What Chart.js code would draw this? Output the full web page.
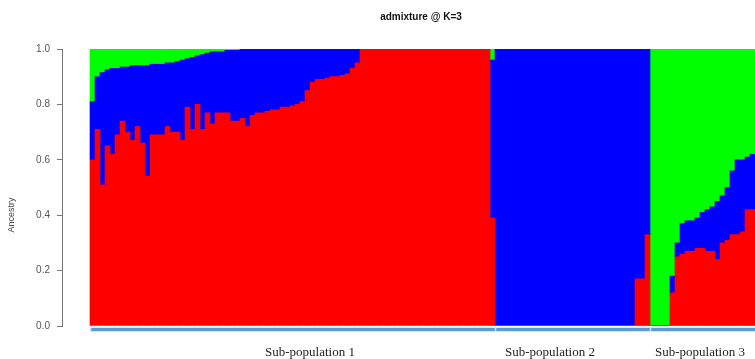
<!DOCTYPE html>
<html>
<head>
<meta charset="utf-8">
<script src="https://cdn.jsdelivr.net/npm/chart.js@4.4.1/dist/chart.umd.min.js"></script>
<style>
  body { margin: 0; background: #fff; overflow: hidden; }
  #box { width: 755px; height: 359px; }
</style>
</head>
<body>
<div id="box"><canvas id="admixChart"></canvas></div>
<script>
// Grupos (sub-populações) e número de indivíduos visíveis em cada um
const groupNames = ['Sub-population 1', 'Sub-population 2', 'Sub-population 3'];
const groupSizes = [81, 31, 21];
// posição dos rótulos dos grupos, em unidades de indivíduo
const groupLabelAt = [43.5, 91.5, 121.5];

// Proporção de ancestralidade por indivíduo, cluster 1 (vermelho)
const red = [
    0.60, 0.71, 0.51, 0.65, 0.62, 0.69, 0.74, 0.70, 0.67, 0.72,
    0.66, 0.54, 0.69, 0.69, 0.69, 0.72, 0.70, 0.70, 0.67, 0.79,
    0.71, 0.80, 0.71, 0.77, 0.73, 0.77, 0.77, 0.77, 0.74, 0.74,
    0.75, 0.72, 0.76, 0.77, 0.77, 0.775, 0.78, 0.78, 0.79, 0.79,
    0.795, 0.80, 0.81, 0.85, 0.88, 0.89, 0.89, 0.895, 0.90, 0.90,
    0.905, 0.91, 0.93, 0.95, 1, 1, 1, 1, 1, 1,
    1, 1, 1, 1, 1, 1, 1, 1, 1, 1,
    1, 1, 1, 1, 1, 1, 1, 1, 1, 1,
    0.39,
    0, 0, 0, 0, 0, 0, 0, 0, 0, 0,
    0, 0, 0, 0, 0, 0, 0, 0, 0, 0,
    0, 0, 0, 0, 0, 0, 0, 0, 0.17, 0.17, 0.33,
    0, 0, 0, 0, 0.12, 0.25, 0.26, 0.27, 0.27, 0.28,
    0.28, 0.27, 0.27, 0.24, 0.30, 0.31, 0.33, 0.33, 0.34, 0.42, 0.42
];

// cluster 2 (azul)
const blue = [
    0.21, 0.19, 0.405, 0.275, 0.31, 0.24, 0.195, 0.235, 0.27, 0.22,
    0.28, 0.40, 0.255, 0.255, 0.255, 0.23, 0.25, 0.255, 0.29, 0.175,
    0.26, 0.175, 0.27, 0.215, 0.26, 0.22, 0.22, 0.225, 0.255, 0.255,
    0.25, 0.28, 0.24, 0.23, 0.23, 0.225, 0.22, 0.22, 0.21, 0.21,
    0.205, 0.20, 0.19, 0.15, 0.12, 0.11, 0.11, 0.105, 0.10, 0.10,
    0.095, 0.09, 0.07, 0.05, 0, 0, 0, 0, 0, 0,
    0, 0, 0, 0, 0, 0, 0, 0, 0, 0,
    0, 0, 0, 0, 0, 0, 0, 0, 0, 0,
    0.57,
    1, 1, 1, 1, 1, 1, 1, 1, 1, 1,
    1, 1, 1, 1, 1, 1, 1, 1, 1, 1,
    1, 1, 1, 1, 1, 1, 1, 1, 0.83, 0.83, 0.67,
    0, 0, 0, 0, 0.06, 0.05, 0.11, 0.11, 0.11, 0.11,
    0.13, 0.15, 0.16, 0.21, 0.17, 0.19, 0.23, 0.27, 0.26, 0.19, 0.20
];

// cluster 3 (verde)
const green = [
    0.19, 0.10, 0.085, 0.075, 0.07, 0.07, 0.065, 0.065, 0.06, 0.06,
    0.06, 0.06, 0.055, 0.055, 0.055, 0.05, 0.05, 0.045, 0.04, 0.035,
    0.03, 0.025, 0.02, 0.015, 0.01, 0.01, 0.01, 0.005, 0.005, 0.005,
    0, 0, 0, 0, 0, 0, 0, 0, 0, 0,
    0, 0, 0, 0, 0, 0, 0, 0, 0, 0,
    0, 0, 0, 0, 0, 0, 0, 0, 0, 0,
    0, 0, 0, 0, 0, 0, 0, 0, 0, 0,
    0, 0, 0, 0, 0, 0, 0, 0, 0, 0,
    0.04,
    0, 0, 0, 0, 0, 0, 0, 0, 0, 0,
    0, 0, 0, 0, 0, 0, 0, 0, 0, 0,
    0, 0, 0, 0, 0, 0, 0, 0, 0, 0, 0,
    1, 1, 1, 1, 0.82, 0.70, 0.63, 0.62, 0.62, 0.61,
    0.59, 0.58, 0.57, 0.55, 0.53, 0.50, 0.44, 0.40, 0.40, 0.39, 0.38
];

const toPoints = arr => arr.map((v, i) => ({ x: i, y: v }));

// Título, rótulo do eixo y, barra de grupos e nomes dos grupos
const decor = {
    id: 'decor',
    afterDraw(chart) {
        const c = chart.ctx;
        const area = chart.chartArea;
        const xs = chart.scales.x;

        c.save();
        c.fillStyle = '#111';
        c.font = 'bold 10px "Liberation Sans", Arial, sans-serif';
        c.textAlign = 'center';
        c.textBaseline = 'middle';
        c.fillText('admixture @ K=3', 421, 17);
        c.restore();

        c.save();
        c.translate(12, 215);
        c.rotate(-Math.PI / 2);
        c.fillStyle = '#444';
        c.font = '9px "Liberation Sans", Arial, sans-serif';
        c.textAlign = 'center';
        c.textBaseline = 'middle';
        c.fillText('Ancestry', 0, 0);
        c.restore();

        // linha azul clara sob as barras
        const lineY = area.bottom + 3.5;
        c.save();
        c.strokeStyle = '#5b9bd5';
        c.lineWidth = 3.5;
        c.beginPath();
        c.moveTo(xs.getPixelForValue(-0.5), lineY);
        c.lineTo(area.right, lineY);
        c.stroke();

        // marcas nos limites dos grupos
        c.strokeStyle = '#d6e6f5';
        c.lineWidth = 1.5;
        let start = 0;
        groupSizes.forEach(n => {
            const bx = Math.round(xs.getPixelForValue(start - 0.5)) + 0.5;
            c.beginPath();
            c.moveTo(bx, lineY - 2);
            c.lineTo(bx, lineY + 2);
            c.stroke();
            start += n;
        });
        c.restore();

        c.save();
        c.fillStyle = '#222';
        c.font = '13px "Liberation Serif", "Times New Roman", serif';
        c.textAlign = 'center';
        c.textBaseline = 'alphabetic';
        groupNames.forEach((name, g) => {
            c.fillText(name, xs.getPixelForValue(groupLabelAt[g]), 356);
        });
        c.restore();
    }
};

const ctx = document.getElementById('admixChart').getContext('2d');
const admixChart = new Chart(ctx, {
    type: 'bar',
    data: {
        datasets: [
            { label: 'K1', data: toPoints(red), backgroundColor: '#ff0000' },
            { label: 'K2', data: toPoints(blue), backgroundColor: '#0000ff' },
            { label: 'K3', data: toPoints(green), backgroundColor: '#00ff00' }
        ]
    },
    options: {
        responsive: true,
        maintainAspectRatio: false,
        animation: false,
        layout: { padding: { top: 49, bottom: 33, left: 0, right: 0 } },
        datasets: {
            bar: { barPercentage: 1, categoryPercentage: 1, borderWidth: 0 }
        },
        plugins: {
            legend: { display: false },
            tooltip: { enabled: false },
            title: { display: false }
        },
        scales: {
            x: {
                type: 'linear',
                stacked: true,
                display: false,
                offset: false,
                bounds: 'data',
                // deixa ~28px entre o eixo y e o primeiro indivíduo
                min: -6.1,
                max: red.length - 0.5,
                ticks: { stepSize: 50 }
            },
            y: {
                stacked: true,
                min: 0,
                max: 1,
                afterFit: scale => { scale.width = 62; },
                border: { display: true, color: '#777', width: 1 },
                grid: { drawOnChartArea: false, drawTicks: true, tickLength: 5, color: '#777' },
                ticks: {
                    stepSize: 0.2,
                    padding: 7,
                    color: '#555',
                    font: { family: '"Liberation Sans", Arial, sans-serif', size: 10 },
                    callback: v => v.toFixed(1)
                }
            }
        }
    },
    plugins: [decor]
});
</script>
</body>
</html>
